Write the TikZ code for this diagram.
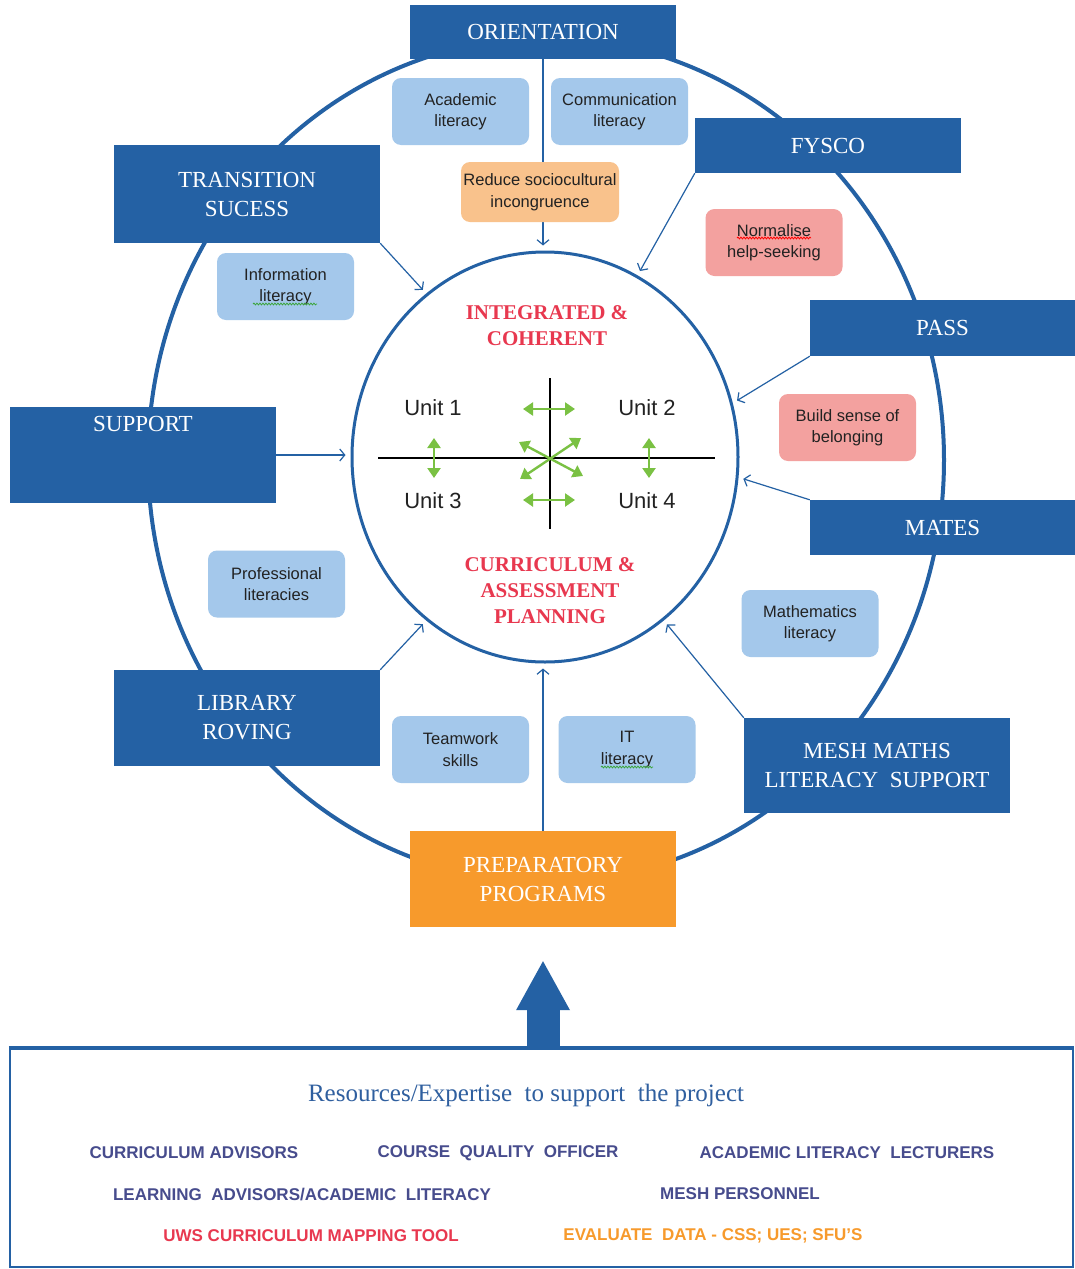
\documentclass[tikz,border=0pt]{standalone}
\usepackage{fontspec}
\setmainfont{Liberation Serif}
\setsansfont{Liberation Sans}
\usetikzlibrary{shapes.geometric,arrows.meta,decorations.pathmorphing}
\definecolor{ink}{HTML}{222222}
\definecolor{navy}{HTML}{2461A4}
\definecolor{amber}{HTML}{F79A2C}
\definecolor{sky}{HTML}{A4C8EB}
\definecolor{peach}{HTML}{F9C28C}
\definecolor{rose}{HTML}{F3A19F}
\definecolor{alert}{HTML}{E8384F}
\definecolor{leaf}{HTML}{7AC143}
\definecolor{staffink}{HTML}{474C8D}
\definecolor{heading}{HTML}{2F5F9F}
\definecolor{spell}{HTML}{3BA53B}
\newcommand{\progfont}{\fontsize{23}{29}\selectfont}
\newcommand{\skillfont}{\sffamily\fontsize{16.5}{21.5}\selectfont}
\newcommand{\hubfont}{\bfseries\fontsize{21}{26}\selectfont}
\newcommand{\unitfont}{\sffamily\fontsize{22}{24}\selectfont}
\newcommand{\headfont}{\fontsize{25}{28}\selectfont}
\newcommand{\stafffont}{\sffamily\bfseries\fontsize{17}{19}\selectfont}

\begin{document}
\begin{tikzpicture}[x=1pt,y=-1pt,
  programme/.style={fill=navy, text=white, font=\progfont, align=center, inner sep=0pt, minimum width=266pt},
  skill/.style={fill=sky, text=ink, font=\skillfont, align=center, rounded corners=9pt, inner sep=0pt, minimum width=137pt, minimum height=67pt},
  feed/.style={draw=navy, line width=1.2pt, shorten >=5pt, -{Straight Barb[length=5pt,width=12pt]}},
  twoway/.style={draw=leaf, line width=2.4pt, {Triangle[length=10pt,width=13pt]}-{Triangle[length=10pt,width=13pt]}},
  squiggle/.style={line width=0.8pt, decorate, decoration={snake, amplitude=0.9pt, segment length=3pt}},
  goal/.style={text=alert, font=\hubfont, align=center},
  unitlabel/.style={text=ink, font=\unitfont},
  staff/.style={text=staffink, font=\stafffont}]
  \fill[white] (0,0) rectangle (1075,1269);
  \useasboundingbox (0,0) rectangle (1075,1269);

  % Outer ring and the planning hub in the middle.
  \draw[navy, line width=4pt] (546,460) ellipse [x radius=398pt, y radius=422pt];
  \node[ellipse, draw=navy, line width=3pt, fill=white, minimum width=386pt, minimum height=410pt, inner sep=0pt] (hub) at (545,457) {};

  % Programmes sitting on the ring.
  \node[programme, minimum height=54pt] (orient) at (543,32) {ORIENTATION};
  \node[programme, minimum height=98pt] (transition) at (247,194) {TRANSITION\\SUCESS};
  \node[programme, minimum height=55pt] (fysco) at (828,145.5) {FYSCO};
  \node[programme, minimum width=265pt, minimum height=56pt] (pass) at (942.5,328) {PASS};
  \node[programme, text height=24pt, text depth=72pt] (support) at (143,455) {SUPPORT};
  \node[programme, minimum width=265pt, minimum height=55pt] (mates) at (942.5,527.5) {MATES};
  \node[programme, minimum height=96pt] (library) at (247,718) {LIBRARY\\ROVING};
  \node[programme, minimum height=95pt] (mesh) at (877,765.5) {MESH MATHS\\LITERACY~ SUPPORT};
  \node[programme, fill=amber, minimum height=96pt] (prep) at (543,879) {PREPARATORY\\PROGRAMS};

  % Every programme feeds the hub.
  \draw[feed] (orient) -- (orient |- hub.north);
  \draw[feed] (transition.south east) -- (hub.126);
  \draw[feed] (fysco.south west) -- (hub.63);
  \draw[feed] (pass.south west) -- (hub.16);
  \draw[feed] (support.east) -- (support.east -| hub.west);
  \draw[feed] (mates.north west) -- (hub.-6);
  \draw[feed] (library.north east) -- (hub.234);
  \draw[feed] (mesh.north west) -- (hub.306);
  \draw[feed] (prep) -- (prep |- hub.south);

  % Literacies and outcomes between ring and hub.
  \node[skill] (acad) at (460.5,111.5) {Academic\\literacy};
  \node[skill] (comm) at (619.5,111.5) {Communication\\literacy};
  \node[skill, fill=peach, minimum width=158pt, minimum height=60pt] (reduce) at (540,192) {Reduce sociocultural\\incongruence};
  \node[skill, fill=rose] (normalise) at (774,242.5) {Normalise\\help-seeking};
  \node[skill] (info) at (285.5,286.5) {Information\\literacy};
  \node[skill, fill=rose] (belong) at (847.5,427.5) {Build sense of\\belonging};
  \node[skill] (prof) at (276.5,584) {Professional\\literacies};
  \node[skill] (maths) at (810,623.5) {Mathematics\\literacy};
  \node[skill] (team) at (460.5,749.5) {Teamwork\\skills};
  \node[skill] (itlit) at (627,749.5) {IT\\literacy};
  % spell-check marks under flagged words
  \draw[squiggle, red] (737,238) -- (811,238);
  \draw[squiggle, spell] (253,304) -- (317,304);
  \draw[squiggle, spell] (601,767) -- (653,767);

  % Units linked across the hub.
  \draw[black, line width=1.5pt] (378,458) -- (715,458);
  \draw[black, line width=1.5pt] (550,378) -- (550,529);
  \node[unitlabel] (u1) at (433,408) {Unit 1};
  \node[unitlabel] (u2) at (647,408) {Unit 2};
  \node[unitlabel] (u3) at (433,501) {Unit 3};
  \node[unitlabel] (u4) at (647,501) {Unit 4};
  \draw[twoway] (523,409) -- (575,409);
  \draw[twoway] (523,500) -- (575,500);
  \draw[twoway] (434,438) -- (434,478);
  \draw[twoway] (649,438) -- (649,478);
  \draw[twoway] (519,442) -- (583,476);
  \draw[twoway] (520,479) -- (581,438);
  \node[goal] (aim) at (547,326) {INTEGRATED \&\\COHERENT};
  \node[goal] (plan) at (550,591) {CURRICULUM \&\\ASSESSMENT\\PLANNING};

  % Resource pool underneath, pushing into the preparatory programs.
  \node[draw=navy, line width=2.5pt, minimum width=1063pt, minimum height=218pt, inner sep=0pt] (pool) at (541.5,1158) {};
  \draw[navy, line width=4pt] (pool.north west) -- (pool.north east);
  \draw[navy, line width=33pt, -{Triangle[length=49pt,width=54pt,line width=0pt]}] (pool.north -| prep) -- ([yshift=-34pt]prep.south);
  \node[text=heading, font=\headfont] (head) at (526,1095) {Resources/Expertise~ to support~ the project};
  \node[staff] (advisors) at (194,1153) {CURRICULUM ADVISORS};
  \node[staff] (quality) at (498,1153) {COURSE~ QUALITY~ OFFICER};
  \node[staff] (lecturers) at (847,1153) {ACADEMIC LITERACY~ LECTURERS};
  \node[staff] (learning) at (302,1194) {LEARNING~ ADVISORS/ACADEMIC~ LITERACY};
  \node[staff] (meshstaff) at (740,1194) {MESH PERSONNEL};
  \node[staff, text=alert] (mapping) at (311,1236) {UWS CURRICULUM MAPPING TOOL};
  \node[staff, text=amber] (evaluate) at (713,1236) {EVALUATE~ DATA - CSS; UES; SFU’S};
\end{tikzpicture}
\end{document}
